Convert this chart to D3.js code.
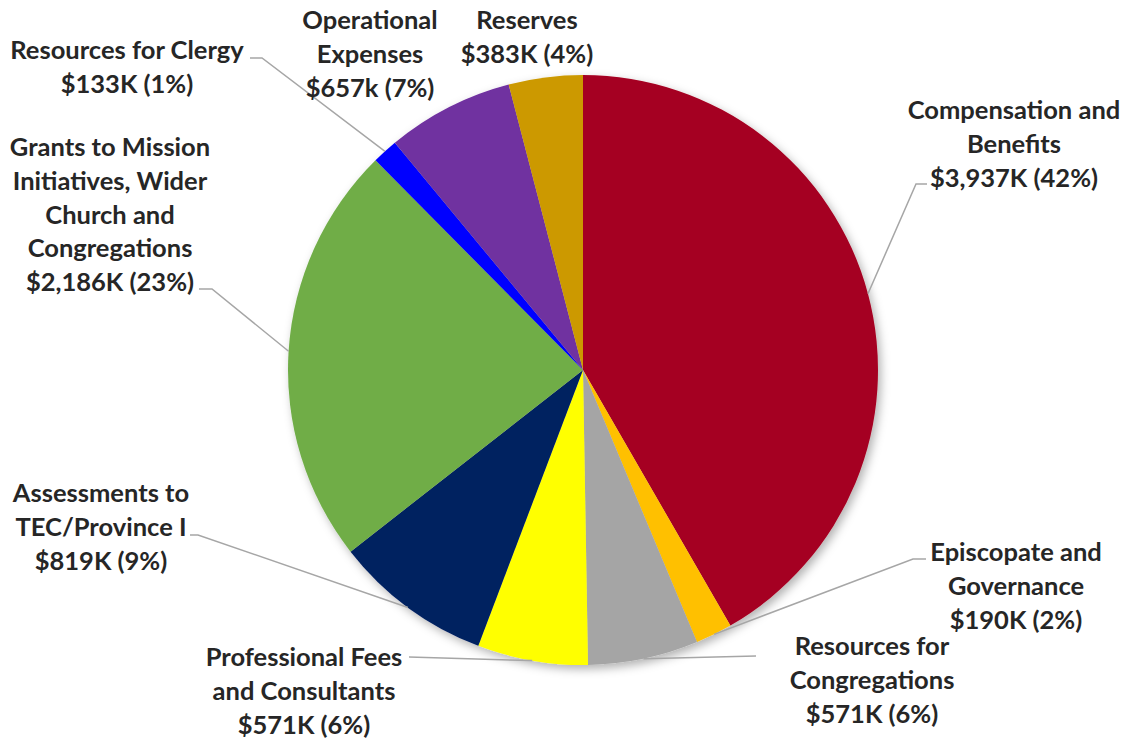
<!DOCTYPE html>
<html>
<head>
<meta charset="utf-8">
<script src="https://cdn.jsdelivr.net/npm/d3@7"></script>
<style>
  body { margin: 0; background: #fff; }
  svg text { font-family: Lato, "Open Sans", sans-serif; font-weight: bold; fill: #262626; }
</style>
</head>
<body>
<div id="chart"></div>
<script>
// Slice Data (clockwise from 12 o'clock)
const categories = ["Compensation and Benefits", "Episcopate and Governance", "Resources for Congregations",
  "Professional Fees and Consultants", "Assessments to TEC/Province I",
  "Grants to Mission Initiatives, Wider Church and Congregations", "Resources for Clergy",
  "Operational Expenses", "Reserves"];
const amounts = [3937, 190, 571, 571, 819, 2186, 133, 657, 383];
const valueLabels = ["$3,937K (42%)", "$190K (2%)", "$571K (6%)", "$571K (6%)", "$819K (9%)",
  "$2,186K (23%)", "$133K (1%)", "$657k (7%)", "$383K (4%)"];
const nameLines = [["Compensation and", "Benefits"], ["Episcopate and", "Governance"], ["Resources for", "Congregations"],
  ["Professional Fees", "and Consultants"], ["Assessments to", "TEC/Province I"],
  ["Grants to Mission", "Initiatives, Wider", "Church and", "Congregations"], ["Resources for Clergy"],
  ["Operational", "Expenses"], ["Reserves"]];
const colors = ["#A50021", "#FFC000", "#A5A5A5", "#FFFF00", "#002060", "#70AD47", "#0000FF", "#7030A0", "#CC9900"];

// Label Layout (centre x, first line y, leader elbow / attach points)
const labelLayout = [
  { x: 1014, y: 110, leader: [[916, 184], [927, 184]] },
  { x: 1016, y: 552, leader: [[913, 559], [926, 559]] },
  { x: 872, y: 646, leader: [[756, 656]] },
  { x: 304, y: 657, leader: [[409, 657]] },
  { x: 101, y: 493, leader: [[198, 535], [190, 535]] },
  { x: 110, y: 147, leader: [[212, 289], [199, 289]] },
  { x: 127, y: 50, leader: [[262, 58], [250, 58]] },
  { x: 370, y: 20, leader: null },
  { x: 527, y: 20, leader: null }
];

// Initialise Dimensions
let w = 1131, h = 738, cx = 583, cy = 370, radius = 295, lineH = 33.7;

let svg = d3.select("#chart").append("svg").attr("width", w).attr("height", h);

// Soft Shadow Behind Pie
let defs = svg.append("defs");
defs.append("filter").attr("id", "shadow").attr("x", "-10%").attr("y", "-10%").attr("width", "120%").attr("height", "120%")
  .append("feDropShadow").attr("dx", 3).attr("dy", 4).attr("stdDeviation", 5)
  .attr("flood-color", "#000").attr("flood-opacity", 0.3);

let pie = d3.pie().sort(null).value((d) => d)(amounts);
let arc = d3.arc().innerRadius(0).outerRadius(radius);

let g = svg.append("g").attr("transform", "translate(" + cx + "," + cy + ")");

// Draw Slices
g.append("g").attr("filter", "url(#shadow)")
  .selectAll("path").data(pie).enter().append("path")
  .attr("d", arc)
  .attr("fill", (d, i) => colors[i])
  .append("title").text((d, i) => categories[i] + ": " + valueLabels[i]);

// Leader Lines From Slice Mid-Angle On The Rim
pie.forEach((d, i) => {
  let lay = labelLayout[i];
  if (!lay.leader) return;
  let a = (d.startAngle + d.endAngle) / 2;
  let pts = [[cx + radius * Math.sin(a), cy - radius * Math.cos(a)]].concat(lay.leader);
  svg.append("path").attr("d", d3.line()(pts))
    .attr("fill", "none").attr("stroke", "#A6A6A6").attr("stroke-width", 1.5);
});

// Data Labels
labelLayout.forEach((lay, i) => {
  let lines = nameLines[i].concat([valueLabels[i]]);
  let t = svg.append("text").attr("text-anchor", "middle").style("font-size", "25.5px");
  lines.forEach((s, j) => {
    t.append("tspan").attr("x", lay.x).attr("y", lay.y + j * lineH).attr("dy", "0.36em").text(s);
  });
});
</script>
</body>
</html>
